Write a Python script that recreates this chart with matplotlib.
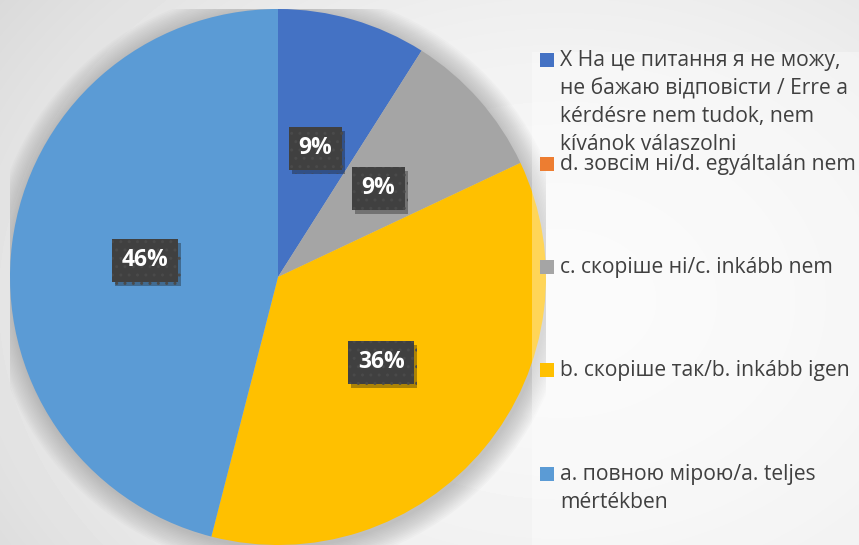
import matplotlib.pyplot as plt
import numpy as np
from matplotlib.patches import Rectangle, Circle
import matplotlib.patheffects as pe

labels = [
    'X На це питання я не можу,\nне бажаю відповісти / Erre a\nkérdésre nem tudok, nem\nkívánok válaszolni',
    'd. зовсім ні/d. egyáltalán nem',
    'c. скоріше ні/c. inkább nem',
    'b. скоріше так/b. inkább igen',
    'a. повною мірою/a. teljes\nmértékben',
]
shares = [9, 0, 9, 36, 46]
colors = ['#4472C4', '#ED7D31', '#A5A5A5', '#FFC000', '#5B9BD5']

W, H = 859, 545
fig = plt.figure(figsize=(W / 100, H / 100), dpi=100)

# background radial gradient
bg = fig.add_axes([0, 0, 1, 1], zorder=-10)
yy, xx = np.mgrid[0:H, 0:W]
d = np.hypot((xx - 560) / 560, (yy - 300) / 420)
shade = np.clip(0.975 - 0.08 * d ** 2, 0, 1)
bg.imshow(shade, cmap='gray', vmin=0, vmax=1, aspect='auto', extent=[0, 1, 0, 1])
bg.axis('off')

# pie axes: centre (278, 277) px from top, radius 268 px
cx, cy, r = 278, 277, 268
ax = fig.add_axes([(cx - r) / W, (H - cy - r) / H, 2 * r / W, 2 * r / H])

# soft shadow
for i in range(14):
    rad = 1.0 + 0.006 * (14 - i)
    ax.add_patch(Circle((0.005, -0.008), rad, color='#808080', alpha=0.035, lw=0, zorder=0))


def pct(p):
    return '' if p < 0.5 else f'{p:.0f}%'


wedges, texts, autotexts = ax.pie(
    shares, colors=colors, startangle=90, counterclock=False, radius=1,
    autopct=pct, pctdistance=0.5,
    wedgeprops=dict(linewidth=0),
    textprops=dict(color='white', fontsize=16.5, fontweight='bold', family='Open Sans'),
)
for w in wedges:
    w.set_zorder(2)
for t in autotexts:
    if t.get_text():
        t.set_bbox(dict(boxstyle='square,pad=0.42', facecolor='#404040', edgecolor='#4a4a4a',
                        lw=0, hatch='..'))
        t.get_bbox_patch().set_path_effects([pe.SimplePatchShadow(offset=(2, -3), alpha=0.35), pe.Normal()])
        t.set_zorder(5)
ax.set_xlim(-1, 1)
ax.set_ylim(-1, 1)
ax.axis('off')

# legend panel (semi-transparent, overlapping the pie edge)
fig.patches.append(Rectangle((532 / W, 0), 1 - 532 / W, 1 - 52 / H, transform=fig.transFigure,
                             facecolor='white', alpha=0.35, lw=0, zorder=3))

handle_y = [60, 164, 267, 370, 474]
for lab, col, y in zip(labels, colors, handle_y):
    fig.patches.append(Rectangle((540 / W, 1 - (y + 7) / H), 14 / W, 14 / H,
                                 transform=fig.transFigure, facecolor=col, lw=0, zorder=4))
    fig.text(560 / W, 1 - (y - 10) / H, lab, fontsize=15.2, color='#404040', family='Open Sans',
             va='top', ha='left', linespacing=1.42, zorder=5)

fig.savefig('out.png', dpi=100)
